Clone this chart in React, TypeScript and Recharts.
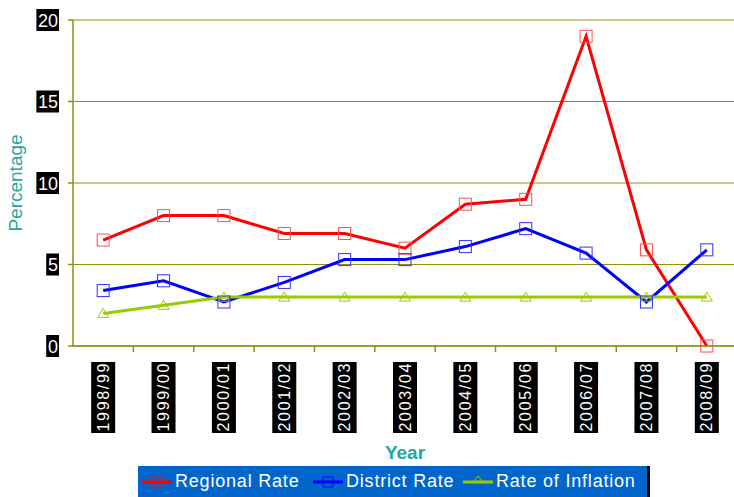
import { LineChart, Line, XAxis, YAxis, CartesianGrid, Legend } from "recharts";

const years = [
  "1998/99", "1999/00", "2000/01", "2001/02", "2002/03", "2003/04",
  "2004/05", "2005/06", "2006/07", "2007/08", "2008/09",
];
const regionalRate = [6.5, 8.0, 8.0, 6.9, 6.9, 6.0, 8.7, 9.0, 19.0, 5.9, 0];
const districtRate = [3.4, 4.0, 2.7, 3.9, 5.3, 5.3, 6.1, 7.2, 5.7, 2.7, 5.9];
const inflationRate = [2.0, 2.5, 3.0, 3.0, 3.0, 3.0, 3.0, 3.0, 3.0, 3.0, 3.0];
const yTicks = [0, 5, 10, 15, 20];

const data = years.map((year, i) => ({
  year,
  regional: regionalRate[i],
  district: districtRate[i],
  inflation: inflationRate[i],
}));

const FONT = "'Liberation Sans', Arial, sans-serif";
const OLIVE = "#8f8f10";
const TEAL = "#22a6a0";

const Square = (color: string) => (props: any) => {
  const { cx, cy } = props;
  if (cx == null || cy == null) return null;
  return (
    <rect x={cx - 6} y={cy - 6} width={12} height={12} fill="none" stroke={color} strokeWidth={1} />
  );
};

const Triangle = (color: string) => (props: any) => {
  const { cx, cy } = props;
  if (cx == null || cy == null) return null;
  return (
    <path d={`M${cx},${cy - 5} L${cx + 5.5},${cy + 4} L${cx - 5.5},${cy + 4} Z`} fill="none" stroke={color} strokeWidth={1} />
  );
};

const XTick = (props: any) => {
  const { x, y, payload, index, width, visibleTicksCount } = props;
  const step = width / visibleTicksCount;
  return (
    <g transform={`translate(${x},${y})`}>
      {index > 0 && <line x1={-step / 2} x2={-step / 2} y1={0} y2={6} stroke={OLIVE} strokeWidth={1.5} />}
      <rect x={-12} y={16} width={24} height={71} fill="#000" />
      <text
        transform="rotate(-90)"
        x={-51.5}
        y={5.5}
        textAnchor="middle"
        fill="#fff"
        fontSize={16}
        fontFamily={FONT}
        textLength={68}
        lengthAdjust="spacing"
      >
        {payload.value}
      </text>
    </g>
  );
};

const YTick = (props: any) => {
  const { x, y, payload } = props;
  const label = String(payload.value);
  const w = label.length * 9.8 + 3;
  return (
    <g>
      <rect x={x - w} y={y - 11} width={w} height={22} fill="#000" />
      <text x={x - 1} y={y + 6.5} textAnchor="end" fill="#fff" fontSize={18} fontFamily={FONT}>
        {label}
      </text>
    </g>
  );
};

const YLabel = (props: any) => {
  const { viewBox } = props;
  const cx = 15;
  const cy = viewBox.y + viewBox.height / 2;
  return (
    <text
      transform={`rotate(-90 ${cx} ${cy})`}
      x={cx}
      y={cy + 7}
      textAnchor="middle"
      fill={TEAL}
      fontSize={19}
      fontFamily={FONT}
    >
      Percentage
    </text>
  );
};

const XLabel = (props: any) => {
  const { viewBox } = props;
  return (
    <text
      x={viewBox.x + viewBox.width / 2}
      y={viewBox.y + 113}
      textAnchor="middle"
      fill={TEAL}
      fontSize={19}
      fontWeight="bold"
      fontFamily={FONT}
    >
      Year
    </text>
  );
};

const legendItems = [
  { name: "Regional Rate", color: "#ff0000", marker: "square", left: 4 },
  { name: "District Rate", color: "#0000ff", marker: "square", left: 175 },
  { name: "Rate of Inflation", color: "#99cc00", marker: "triangle", left: 325 },
];

const LegendBox = () => (
  <div style={{ position: "relative", height: 31, width: 512, background: "#0066cc", boxSizing: "border-box", borderRight: "3px solid #000" }}>
    {legendItems.map((item) => (
      <div key={item.name} style={{ position: "absolute", left: item.left, top: 0, height: 31, display: "flex", alignItems: "center" }}>
        <svg width={30} height={16}>
          <line x1={0} x2={30} y1={8} y2={8} stroke={item.color} strokeWidth={3} />
          {item.marker === "square" ? (
            <rect x={10} y={3} width={10} height={10} fill="none" stroke={item.color} strokeWidth={1} />
          ) : (
            <path d="M15,2 L20,8 L10,8 Z" fill="none" stroke={item.color} strokeWidth={1} />
          )}
        </svg>
        <span style={{ color: "#fff", fontFamily: FONT, fontSize: 18, marginLeft: 3, letterSpacing: 0.8, whiteSpace: "nowrap" }}>
          {item.name}
        </span>
      </div>
    ))}
  </div>
);

export default function App() {
  return (
    <div style={{ position: "absolute", left: 0, top: 0, width: 734, height: 497, overflow: "hidden", background: "#fff" }}>
      <LineChart width={734} height={497} data={data} margin={{ top: 20, right: -3, left: 0, bottom: 0 }}>
        <CartesianGrid vertical={false} stroke={OLIVE} strokeWidth={1} />
        <XAxis
          dataKey="year"
          scale="band"
          height={151}
          interval={0}
          tick={<XTick />}
          tickLine={false}
          tickSize={0}
          tickMargin={0}
          axisLine={{ stroke: OLIVE, strokeWidth: 1.5 }}
          label={<XLabel />}
        />
        <YAxis
          width={73}
          domain={[0, 20]}
          ticks={yTicks}
          tick={<YTick />}
          tickSize={5}
          tickMargin={9}
          tickLine={{ stroke: OLIVE, strokeWidth: 1.5 }}
          axisLine={{ stroke: OLIVE, strokeWidth: 1.5 }}
          label={<YLabel />}
        />
        <Legend
          layout="horizontal"
          verticalAlign="middle"
          align="center"
          content={<LegendBox />}
          wrapperStyle={{ left: 138, top: 466, width: 512, height: 31 }}
        />
        <Line
          type="linear"
          dataKey="regional"
          name="Regional Rate"
          stroke="#ff0000"
          strokeWidth={3}
          dot={Square("#ff5050")}
          isAnimationActive={false}
        />
        <Line
          type="linear"
          dataKey="district"
          name="District Rate"
          stroke="#0000ff"
          strokeWidth={3}
          dot={Square("#3030ff")}
          isAnimationActive={false}
        />
        <Line
          type="linear"
          dataKey="inflation"
          name="Rate of Inflation"
          stroke="#99cc00"
          strokeWidth={3}
          dot={Triangle("#99cc00")}
          isAnimationActive={false}
        />
      </LineChart>
    </div>
  );
}
